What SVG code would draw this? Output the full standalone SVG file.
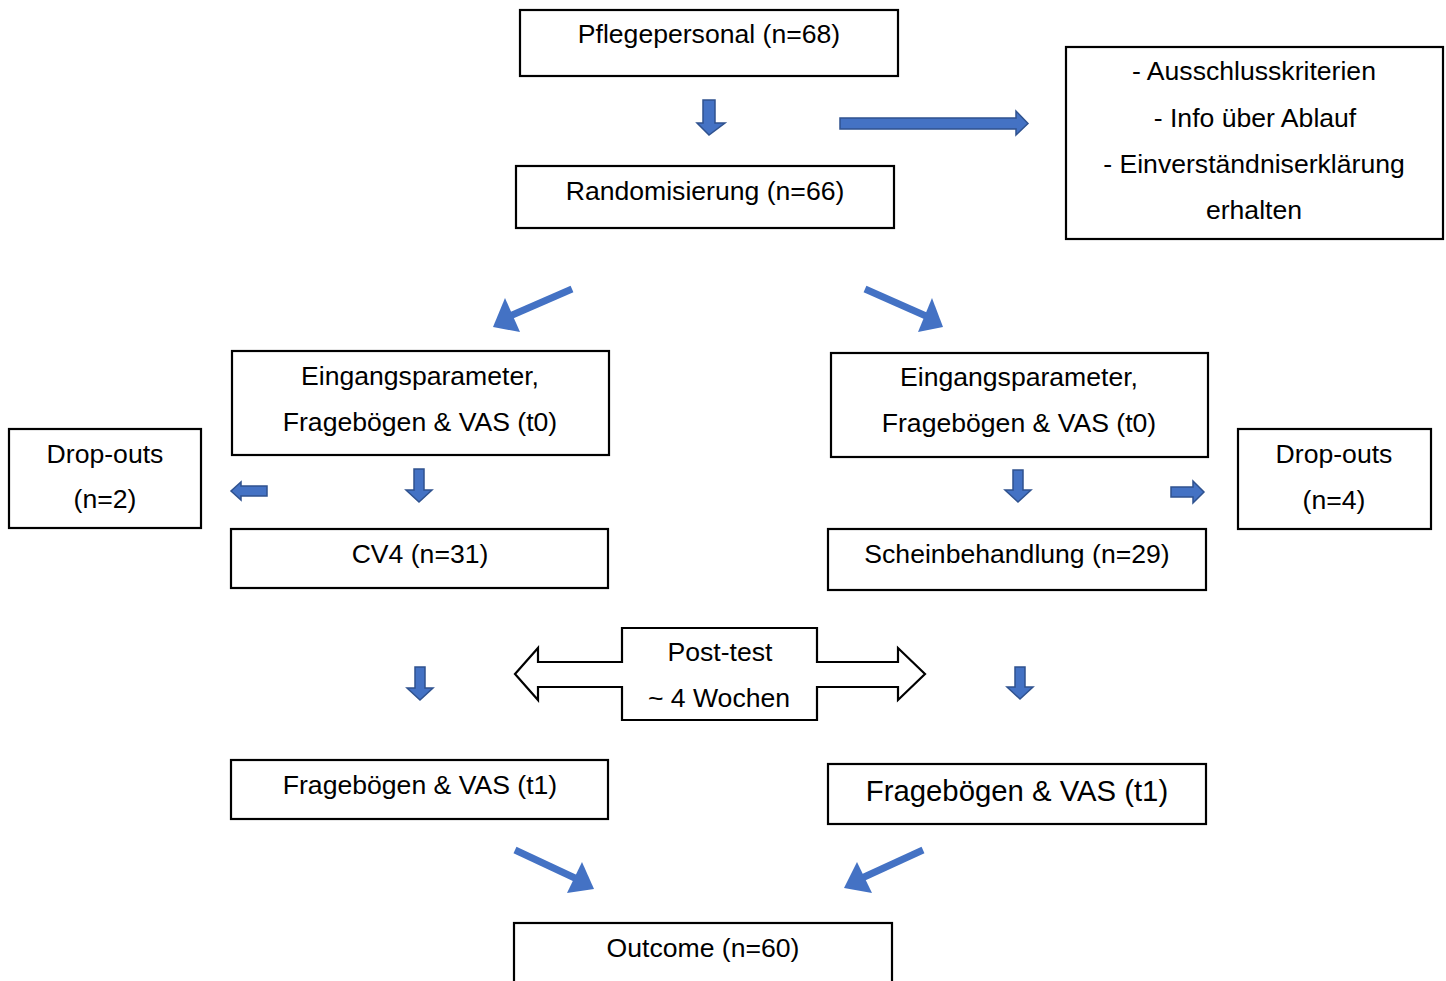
<svg xmlns="http://www.w3.org/2000/svg" width="1446" height="981" viewBox="0 0 1446 981">
<defs>
<style>
.box{fill:#fff;stroke:#000;stroke-width:2.2}
.t{font-family:"Liberation Sans",Arial,sans-serif;font-size:26.6px;fill:#000;text-anchor:middle}
.t2{font-size:29.3px}
.ba{fill:#4472C4;stroke:#2F528F;stroke-width:1.5}
.dl{stroke:#4472C4;stroke-width:7;fill:none}
.dh{fill:#4472C4}
</style>
</defs>
<rect width="1446" height="981" fill="#fff"/>
<g id="connectors">
<path class="ba" d="M703,100 H715 V123 H725 L709,135 L697,123 H703 Z"/>
<path class="ba" d="M840,118 H1016 V111 L1028,123.5 L1016,135 V129 H840 Z"/>
<line class="dl" x1="572" y1="289" x2="510" y2="316"/>
<polygon class="dh" points="493,327 505,298 520,332"/>
<line class="dl" x1="865" y1="289" x2="926" y2="316"/>
<polygon class="dh" points="943,327 932,298 918,332"/>
<path class="ba" d="M414,469 H424 V490 H432 L419,502 L406,490 H414 Z"/>
<path class="ba" d="M1013,470 H1023 V490 H1031 L1018,502 L1005,490 H1013 Z"/>
<path class="ba" d="M267,486 H241 V482 L231,491 L241,500 V496 H267 Z"/>
<path class="ba" d="M1171,487 H1193 V481 L1204,492 L1193,503 V497 H1171 Z"/>
<path class="ba" d="M415,667 H425 V688 H433 L420,700 L407,688 H415 Z"/>
<path class="ba" d="M1015,667 H1025 V687 H1033 L1020,699 L1007,687 H1015 Z"/>
<line class="dl" x1="515" y1="850" x2="577" y2="879"/>
<polygon class="dh" points="594,889 582,862 567,893"/>
<line class="dl" x1="923" y1="850" x2="862" y2="878"/>
<polygon class="dh" points="844,888 857,862 872,893"/>
</g>
<g id="n1"><rect class="box" x="520" y="10" width="378" height="66"/><text class="t" x="709" y="43">Pflegepersonal (n=68)</text></g>
<g id="n2"><rect class="box" x="516" y="166" width="378" height="62"/><text class="t" x="705" y="200">Randomisierung (n=66)</text></g>
<g id="n3"><rect class="box" x="1066" y="47" width="377" height="192"/>
<text class="t" x="1254" y="80">- Ausschlusskriterien</text>
<text class="t" x="1255" y="127">- Info über Ablauf</text>
<text class="t" x="1254" y="173">- Einverständniserklärung</text>
<text class="t" x="1254" y="219">erhalten</text></g>
<g id="n4"><rect class="box" x="232" y="351" width="377" height="104"/>
<text class="t" x="420" y="385">Eingangsparameter,</text>
<text class="t" x="420" y="431">Fragebögen &amp; VAS (t0)</text></g>
<g id="n5"><rect class="box" x="831" y="353" width="377" height="104"/>
<text class="t" x="1019" y="386">Eingangsparameter,</text>
<text class="t" x="1019" y="432">Fragebögen &amp; VAS (t0)</text></g>
<g id="n6"><rect class="box" x="9" y="429" width="192" height="99"/>
<text class="t" x="105" y="463">Drop-outs</text>
<text class="t" x="105" y="508">(n=2)</text></g>
<g id="n7"><rect class="box" x="1238" y="429" width="193" height="100"/>
<text class="t" x="1334" y="463">Drop-outs</text>
<text class="t" x="1334" y="509">(n=4)</text></g>
<g id="n8"><rect class="box" x="231" y="529" width="377" height="59"/><text class="t" x="420" y="563">CV4 (n=31)</text></g>
<g id="n9"><rect class="box" x="828" y="529" width="378" height="61"/><text class="t" x="1017" y="563">Scheinbehandlung (n=29)</text></g>
<g id="n10"><path class="box" d="M622,628 H817 V662 H898 V648 L925,674 L898,700 V687 H817 V720 H622 V687 H538 V700 L515,674 L538,648 V662 H622 Z"/>
<text class="t" x="720" y="661">Post-test</text>
<text class="t" x="719" y="707">~ 4 Wochen</text></g>
<g id="n11"><rect class="box" x="231" y="760" width="377" height="59"/><text class="t" x="420" y="794">Fragebögen &amp; VAS (t1)</text></g>
<g id="n12"><rect class="box" x="828" y="764" width="378" height="60"/><text class="t t2" x="1017" y="801">Fragebögen &amp; VAS (t1)</text></g>
<g id="n13"><rect class="box" x="514" y="923" width="378" height="70"/><text class="t" x="703" y="957">Outcome (n=60)</text></g>
</svg>
